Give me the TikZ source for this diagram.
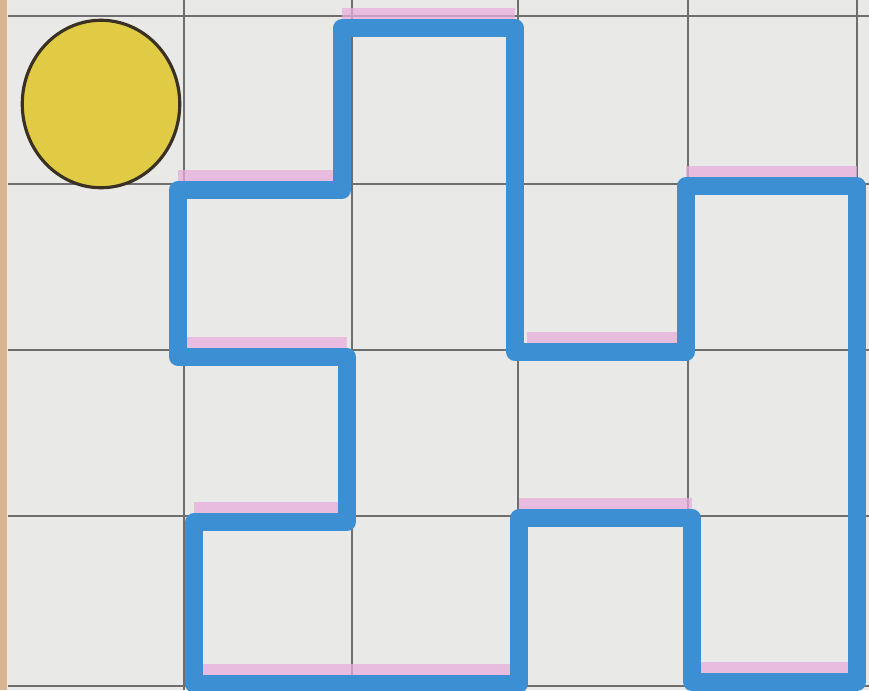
\documentclass[tikz,border=0pt]{standalone}
\usepackage{xcolor}
\usepackage{tikz}
\usetikzlibrary{calc}
\definecolor{papier}{HTML}{E9E9E7}
\definecolor{bord}{HTML}{D9B58F}
\definecolor{grille}{HTML}{6E6E6E}
\definecolor{contour}{HTML}{3D8FD4}
\definecolor{rose}{HTML}{E7AEDB}
\definecolor{jaune}{HTML}{E1CB45}
\definecolor{brun}{HTML}{3A3122}
\tikzset{
  gridline/.style={draw=grille, line width=0.9pt},
  pinkline/.style={draw=rose, line width=7pt, opacity=0.75},
  outline/.style={draw=contour, line width=10pt, line join=round},
  token/.style={ellipse, draw=brun, line width=1.8pt, fill=jaune,
                minimum width=3.15cm, minimum height=3.35cm, inner sep=0pt},
}
\usetikzlibrary{shapes.geometric}

\begin{document}
\begin{tikzpicture}[x=0.02cm, y=-0.02cm]
    \useasboundingbox (0,0) rectangle (869,690);
    \fill[papier] (0,0) rectangle (869,690);
    \fill[bord] (0,0) rectangle (7,690);
    % grille
    \foreach \x in {184,352,518,688,857}
      \draw[gridline] (\x,0) -- (\x,690);
    \foreach \y in {16,184,350,516,686}
      \draw[gridline] (8,\y) -- (869,\y);
    % traits roses
    \draw[pinkline] (342,14) -- (515,14);
    \draw[pinkline] (178,176) -- (342,176);
    \draw[pinkline] (686,172) -- (857,172);
    \draw[pinkline] (527,338) -- (686,338);
    \draw[pinkline] (186,343) -- (347,343);
    \draw[pinkline] (194,508) -- (340,508);
    \draw[pinkline] (519,504) -- (692,504);
    \draw[pinkline] (202,670) -- (512,670);
    \draw[pinkline] (700,668) -- (852,668);
    % contour bleu
    \draw[outline] (342,28) -- (515,28) -- (515,352) -- (686,352) -- (686,186)
      -- (857,186) -- (857,682) -- (692,682) -- (692,518) -- (519,518)
      -- (519,684) -- (194,684) -- (194,522) -- (347,522) -- (347,357)
      -- (178,357) -- (178,190) -- (342,190) -- cycle;
    \node[token] (jeton) at (101,104) {};
  \end{tikzpicture}
\end{document}
